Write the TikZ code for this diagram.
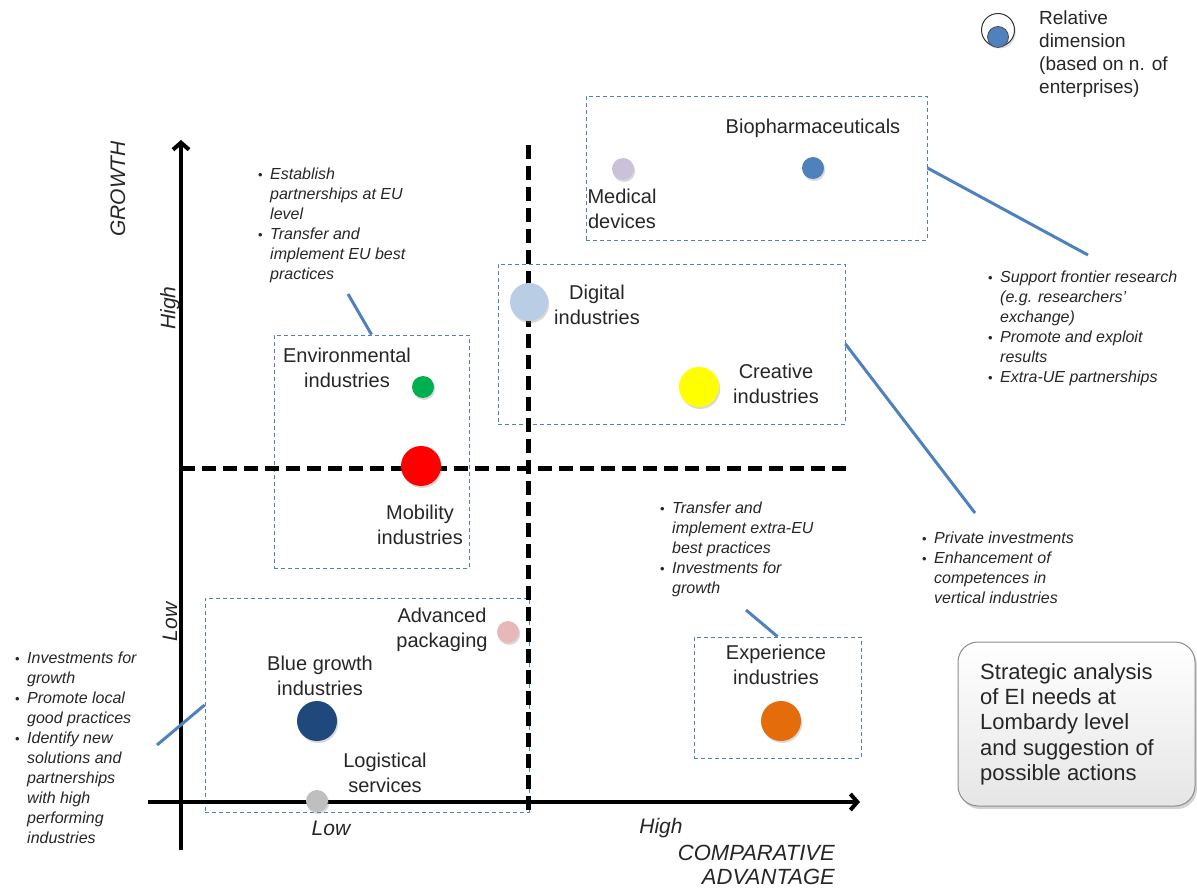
\documentclass[tikz,border=0pt]{standalone}
\usepackage{fontspec}
\setmainfont{Liberation Sans}
\usetikzlibrary{shadows,arrows.meta}

\definecolor{txt}{HTML}{262626}
\definecolor{zoneblue}{HTML}{4F81BD}
\definecolor{linkblue}{HTML}{4F81BD}
\definecolor{cLavender}{HTML}{CCC1DA}
\definecolor{cBlue}{HTML}{4F81BD}
\definecolor{cLightBlue}{HTML}{B9CDE5}
\definecolor{cYellow}{HTML}{FFFF00}
\definecolor{cGreen}{HTML}{00B050}
\definecolor{cRed}{HTML}{FF0000}
\definecolor{cPink}{HTML}{E6B9B8}
\definecolor{cNavy}{HTML}{1F497D}
\definecolor{cGray}{HTML}{BFBFBF}
\definecolor{cOrange}{HTML}{E46C0A}

\newcommand{\bulletmark}{\makebox[12pt][l]{\upshape\fontsize{13}{13}\selectfont\raisebox{0.5pt}{•}}}
\newcommand{\hangpad}{\hspace*{12pt}}

\begin{document}
\begin{tikzpicture}[x=1pt,y=-1pt,
  lbl/.style={font=\fontsize{20}{25}\selectfont, align=center, inner sep=0, text=txt, anchor=north},
  note/.style={font=\fontsize{16}{20}\selectfont\itshape, align=left, inner sep=0, text=txt, anchor=north west},
  axislbl/.style={font=\fontsize{21}{25}\selectfont\itshape, inner sep=0, text=txt},
  zone/.style={draw=zoneblue, line width=0.9pt, dash pattern=on 4pt off 3pt, inner sep=0, fill=none},
  link/.style={draw=linkblue, line width=3pt},
  dot/.style={circle, inner sep=0, draw=none, drop shadow={opacity=0.3, shadow xshift=1.2pt, shadow yshift=-2pt}},
  quad/.style={line width=5pt, dash pattern=on 14pt off 7pt},
  axis/.style={line width=4pt, -{Straight Barb[length=7pt,width=16pt]}}
]
\useasboundingbox (0,0) rectangle (1197,890);

% zone boxes
\node[zone, minimum width=341pt, minimum height=144pt] (bioBox) at (756.5,168) {};
\node[zone, minimum width=347pt, minimum height=160pt] (digBox) at (671.5,344) {};
\node[zone, minimum width=195pt, minimum height=233pt] (envBox) at (371.5,451.5) {};
\node[zone, minimum width=324pt, minimum height=214pt] (lowBox) at (367,705) {};
\node[zone, minimum width=167pt, minimum height=121pt] (expBox) at (777.5,697.5) {};

% axes
\coordinate (yBot) at (181,850);
\coordinate (yTop) at (181,140);
\coordinate (xLeft) at (148,802);
\coordinate (xRight) at (860,802);
\draw[axis] (yBot) -- (yTop);
\draw[axis] (xLeft) -- (xRight);

% quadrant split lines
\coordinate (hL) at (181,468);
\coordinate (hR) at (850,468);
\coordinate (vT) at (528,145);
\coordinate (vB) at (528,815);
\draw[quad] (hL) -- (hR);
\draw[quad] (vT) -- (vB);

% axis labels
\node[axislbl, rotate=90] (growth) at (118,189) {GROWTH};
\node[axislbl, rotate=90] (yHigh) at (170,308) {High};
\node[axislbl, rotate=90] (yLow) at (170,622) {Low};
\node[axislbl] (xLow) at (331,828) {Low};
\node[axislbl] (xHigh) at (661,828) {High};
\node[axislbl, font=\fontsize{22}{24}\selectfont\itshape, align=right, anchor=north east] (xTitle) at (835,845) {COMPARATIVE\\ADVANTAGE};

% industry bubbles
\node[dot, fill=cLavender, minimum size=22pt] (med) at (623,169) {};
\node[dot, fill=cBlue, minimum size=22pt] (bio) at (813,168) {};
\node[dot, fill=cLightBlue, minimum size=38pt] (dig) at (529,302) {};
\node[dot, fill=cYellow, minimum size=40pt] (cre) at (699,387) {};
\node[dot, fill=cGreen, minimum size=22pt] (env) at (423,387) {};
\node[dot, fill=cRed, minimum size=40pt] (mob) at (421,466) {};
\node[dot, fill=cPink, minimum size=22pt] (pack) at (508,632) {};
\node[dot, fill=cNavy, minimum size=40pt] (blue) at (317,721) {};
\node[dot, fill=cGray, minimum size=22pt] (log) at (317,801) {};
\node[dot, fill=cOrange, minimum size=40pt] (exp) at (781,721) {};

% industry names
\node[lbl] (bioT) at (813,119) {Biopharmaceuticals};
\node[lbl] (medT) at (622,189) {Medical\\devices};
\node[lbl] (digT) at (597,285) {Digital\\industries};
\node[lbl] (creT) at (776,364) {Creative\\industries};
\node[lbl] (envT) at (347,348) {Environmental\\industries};
\node[lbl] (mobT) at (420,505) {Mobility\\industries};
\node[lbl] (packT) at (442,608) {Advanced\\packaging};
\node[lbl] (blueT) at (320,656) {Blue growth\\industries};
\node[lbl] (logT) at (385,753) {Logistical\\services};
\node[lbl] (expT) at (776,645) {Experience\\industries};

% legend
\node[circle, draw=black!80, line width=1pt, fill=white, minimum size=33pt, inner sep=0,
      drop shadow={opacity=0.3, shadow xshift=1.2pt, shadow yshift=-2pt}] (legOuter) at (998,30) {};
\node[circle, draw=black!70, line width=0.8pt, fill=cBlue, minimum size=21pt, inner sep=0] (legInner) at (998,37) {};
\node[font=\fontsize{19}{23}\selectfont, align=left, inner sep=0, text=txt, anchor=north west] (legT) at (1039,11)
  {Relative\\dimension\\(based on n. of\\enterprises)};

% suggested actions
\node[note] (envNote) at (258,168) {\bulletmark Establish\\\hangpad partnerships at EU\\\hangpad level\\\bulletmark Transfer and\\\hangpad implement EU best\\\hangpad practices};
\node[note] (bioNote) at (988,271) {\bulletmark Support frontier research\\\hangpad (e.g. researchers’\\\hangpad exchange)\\\bulletmark Promote and exploit\\\hangpad results\\\bulletmark Extra-UE partnerships};
\node[note] (expNote) at (660,502) {\bulletmark Transfer and\\\hangpad implement extra-EU\\\hangpad best practices\\\bulletmark Investments for\\\hangpad growth};
\node[note] (digNote) at (922,532) {\bulletmark Private investments\\\bulletmark Enhancement of\\\hangpad competences in\\\hangpad vertical industries};
\node[note] (lowNote) at (15,652) {\bulletmark Investments for\\\hangpad growth\\\bulletmark Promote local\\\hangpad good practices\\\bulletmark Identify new\\\hangpad solutions and\\\hangpad partnerships\\\hangpad with high\\\hangpad performing\\\hangpad industries};

% connectors between zones and actions
\coordinate (envNoteEnd) at (348,294);
\coordinate (bioNoteEnd) at (1088,255);
\coordinate (digNoteEnd) at (975,513);
\coordinate (expNoteEnd) at (746,610);
\coordinate (lowNoteEnd) at (157,745);
\draw[link] (envBox.north) -- (envNoteEnd);
\draw[link] (bioBox.east) -- (bioNoteEnd);
\draw[link] (digBox.east) -- (digNoteEnd);
\draw[link] (expBox.north) -- (expNoteEnd);
\draw[link] (lowBox.west) -- (lowNoteEnd);

% summary box
\node[draw=black!45, line width=1pt, rounded corners=20pt, top color=white, bottom color=black!10,
      minimum width=237pt, minimum height=164pt, inner sep=0,
      drop shadow={opacity=0.35, shadow xshift=2pt, shadow yshift=-3pt}] (summary) at (1076.5,724) {};
\node[font=\fontsize{22}{25.3}\selectfont, align=left, inner sep=0, text=txt, anchor=north west] (summaryT) at (980,663)
  {Strategic analysis\\of EI needs at\\Lombardy level\\and suggestion of\\possible actions};
\end{tikzpicture}
\end{document}
